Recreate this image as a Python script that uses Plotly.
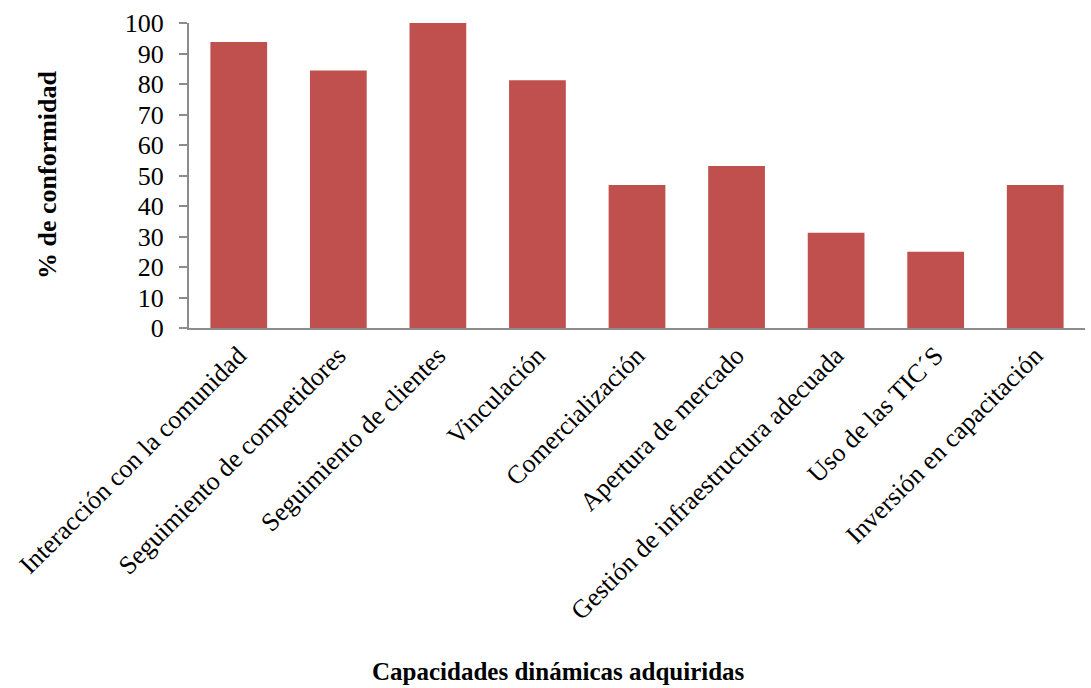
import plotly.graph_objects as go

categories = [
    "Interacción con la comunidad",
    "Seguimiento de competidores",
    "Seguimiento de clientes",
    "Vinculación",
    "Comercialización",
    "Apertura de mercado",
    "Gestión de infraestructura adecuada",
    "Uso de las TIC´S",
    "Inversión en capacitación",
]
conformidad = [93.75, 84.4, 100, 81.25, 46.9, 53.1, 31.25, 25, 46.9]
y_ticks = list(range(0, 101, 10))

font_family = "Liberation Serif"
W, H = 1091, 688
M_L, M_R, M_T, M_B = 189, 6, 23, 360

fig = go.Figure(
    go.Bar(
        x=categories,
        y=conformidad,
        marker=dict(color="#C0504D", line=dict(width=0)),
    )
)

fig.update_layout(
    width=W,
    height=H,
    margin=dict(l=M_L, r=M_R, t=M_T, b=M_B),
    plot_bgcolor="white",
    paper_bgcolor="white",
    bargap=0.43,
    showlegend=False,
    font=dict(family=font_family, color="black", size=26),
)

fig.update_xaxes(
    tickangle=-45,
    tickfont=dict(family=font_family, size=26, color="black"),
    showline=True,
    linecolor="#8C8C8C",
    linewidth=2,
    ticks="",
    showgrid=False,
)

fig.update_yaxes(
    range=[0, 100],
    tickvals=y_ticks,
    tickfont=dict(family=font_family, size=26, color="black"),
    showline=True,
    linecolor="#8C8C8C",
    linewidth=2,
    ticks="outside",
    ticklen=8,
    tickcolor="#8C8C8C",
    tickwidth=2,
    ticklabelstandoff=10,
    showgrid=False,
    zeroline=False,
)

# Axis titles placed in pixel terms relative to the plot area
plot_w = W - M_L - M_R
plot_h = H - M_T - M_B
fig.add_annotation(
    text="<b>Capacidades dinámicas adquiridas</b>",
    xref="paper", yref="paper",
    x=(558 - M_L) / plot_w, y=-(671 - (H - M_B)) / plot_h,
    xanchor="center", yanchor="middle", showarrow=False,
    font=dict(family=font_family, size=25, color="black"),
)
fig.add_annotation(
    text="<b>% de conformidad</b>",
    xref="paper", yref="paper",
    x=-(M_L - 47) / plot_w, y=((H - M_B) - 175) / plot_h,
    xanchor="center", yanchor="middle", showarrow=False, textangle=-90,
    font=dict(family=font_family, size=26, color="black"),
)

fig.write_html("out.html")
